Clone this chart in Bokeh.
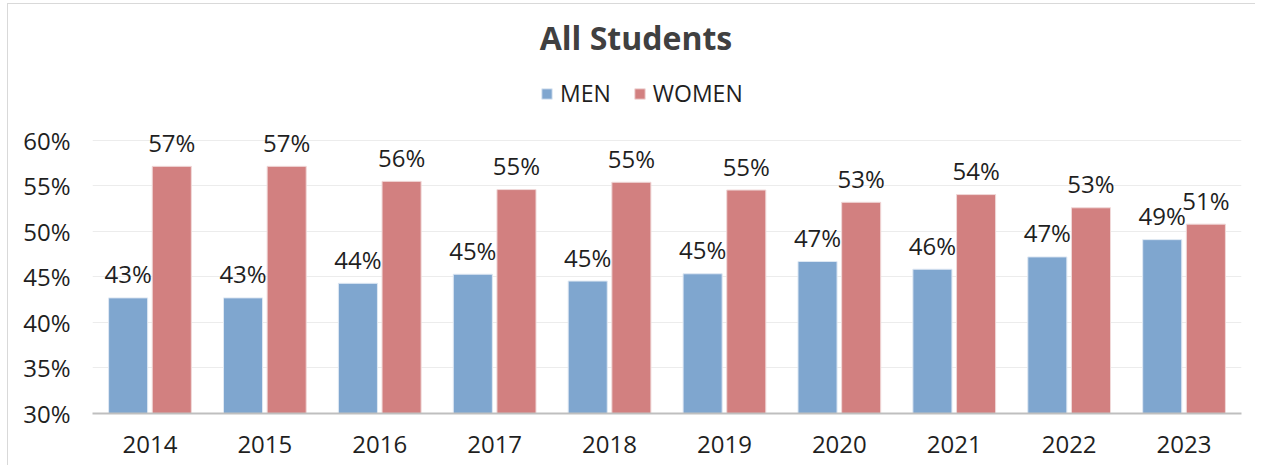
from bokeh.plotting import figure
from bokeh.models import (ColumnDataSource, FactorRange, Range1d, FixedTicker,
                          Label, Legend, LegendItem, CustomJSTickFormatter)
from bokeh.transform import dodge
from bokeh.core.properties import value
from bokeh.embed import file_html
from bokeh.resources import INLINE

years = ["2014", "2015", "2016", "2017", "2018", "2019", "2020", "2021", "2022", "2023"]
men = [42.7, 42.7, 44.3, 45.3, 44.55, 45.35, 46.7, 45.85, 47.2, 49.1]
women = [57.15, 57.15, 55.5, 54.6, 55.4, 54.55, 53.2, 54.05, 52.6, 50.8]
y_ticks = [30, 35, 40, 45, 50, 55, 60]
title_text = "All Students"
series_names = ["MEN", "WOMEN"]

FONT = "Open Sans"
TXT = "#1f1f1f"
BLUE = "#7FA6CF"
RED = "#D28080"

src = ColumnDataSource(dict(
    year=years, men=men, women=women,
    men_lbl=[f"{int(v + 0.5)}%" for v in men],
    women_lbl=[f"{int(v + 0.5)}%" for v in women],
))

p = figure(width=1248, height=462, x_range=FactorRange(*years),
           y_range=Range1d(30, 74.6), output_backend="svg", toolbar_location=None,
           min_border_left=84, min_border_right=15, min_border_top=3,
           min_border_bottom=53)
p.x_range.range_padding = 0
p.styles = {"border-left": "1px solid #d9d9d9", "border-top": "1px solid #d9d9d9",
            "margin-left": "7px", "margin-top": "3px"}
p.outline_line_color = None
p.background_fill_color = "white"
p.border_fill_color = "white"

r_men = p.vbar(x=dodge("year", -0.19, range=p.x_range), top="men", bottom=30, width=0.34,
               source=src, fill_color=BLUE, line_color="#dfe8f3", line_width=1)
r_women = p.vbar(x=dodge("year", 0.19, range=p.x_range), top="women", bottom=30, width=0.34,
                 source=src, fill_color=RED, line_color="#f0d8d8", line_width=1)

for col, off in (("men", -0.19), ("women", 0.19)):
    p.text(x=dodge("year", off, range=p.x_range), y=col, text=col + "_lbl", source=src,
           text_align="center", text_baseline="alphabetic", y_offset=-24,
           text_font=value(FONT), text_font_size="24px", text_color=TXT)

# axes
p.yaxis.ticker = FixedTicker(ticks=y_ticks)
p.yaxis.formatter = CustomJSTickFormatter(code="return tick + '%';")
p.yaxis.axis_line_color = None
p.yaxis.major_tick_line_color = None
p.yaxis.minor_tick_line_color = None
p.yaxis.major_label_text_font = FONT
p.yaxis.major_label_text_font_size = "24px"
p.yaxis.major_label_text_color = TXT
p.yaxis.major_label_standoff = 16

p.xaxis.axis_line_color = "#bfbfbf"
p.xaxis.axis_line_width = 2
p.xaxis.major_tick_line_color = None
p.xaxis.minor_tick_line_color = None
p.xaxis.major_label_text_font = FONT
p.xaxis.major_label_text_font_size = "24px"
p.xaxis.major_label_text_color = TXT
p.xaxis.major_label_standoff = 16

p.xgrid.grid_line_color = None
p.ygrid.ticker = FixedTicker(ticks=y_ticks)
p.ygrid.grid_line_color = "#ececec"
p.ygrid.grid_line_width = 1

# title
p.add_layout(Label(x=4.73, y=71.3, text=title_text, text_align="center",
                   text_baseline="alphabetic", text_font=FONT, text_font_size="32px",
                   text_font_style="bold", text_color="#404040"))

legend = Legend(items=[LegendItem(label=series_names[0], renderers=[r_men]),
                       LegendItem(label=series_names[1], renderers=[r_women])],
                orientation="horizontal", location=(448, 304),
                glyph_width=13, glyph_height=13, label_standoff=7, spacing=22,
                padding=0, margin=0, border_line_color=None, background_fill_alpha=0,
                label_text_font=FONT, label_text_font_size="23px", label_text_color=TXT,
                label_height=20)
p.add_layout(legend, "center")

open("out.html", "w").write(file_html(p, INLINE))
